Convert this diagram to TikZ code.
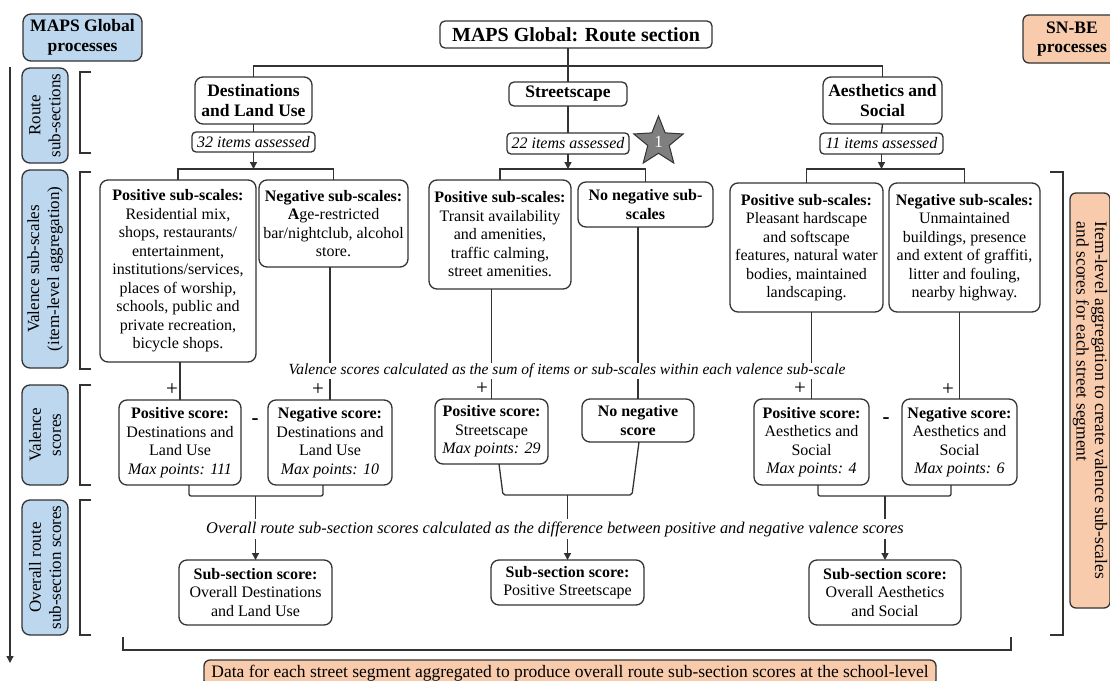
\documentclass[tikz,border=0pt]{standalone}
\usepackage{fontspec}
\setmainfont{Liberation Serif}
\usetikzlibrary{arrows.meta,shapes.geometric}
\definecolor{bluebox}{HTML}{BDD7EE}
\definecolor{orangebox}{HTML}{F8CBAD}
\definecolor{lin}{HTML}{333333}
\definecolor{stargray}{HTML}{7F7F7F}
\begin{document}
\begin{tikzpicture}[x=1pt,y=-1pt,
  every node/.style={inner sep=0pt,outer sep=0pt},
  wh/.style 2 args={minimum width=#1,minimum height=#2},
  ln/.style={draw=lin,line width=1.3pt},
  arr/.style={ln,-{Triangle[length=7pt,width=7pt]}},
  box/.style={draw=lin,line width=1.3pt,rounded corners=8pt,fill=white,align=center,
    font=\fontsize{16}{18.5}\selectfont},
  headbox/.style={box,font=\fontsize{17.5}{20.5}\selectfont\bfseries},
  itembox/.style={box,rounded corners=4pt,font=\fontsize{16}{18.5}\selectfont\itshape},
  bluebx/.style={draw=lin,line width=1.3pt,rounded corners=8pt,fill=bluebox,align=center,
    font=\fontsize{17.5}{19.5}\selectfont\bfseries},
  bluev/.style={draw=lin,line width=1.3pt,rounded corners=8pt,fill=bluebox,align=center,
    rotate=90,font=\fontsize{17}{20}\selectfont},
  orangebx/.style={draw=lin,line width=1.3pt,rounded corners=6pt,fill=orangebox,align=center},
  itxt/.style={fill=white,inner sep=2pt,font=\fontsize{15.5}{18.5}\selectfont\itshape},
  pm/.style={font=\fontsize{21}{22}\selectfont},
  mn/.style={font=\fontsize{21}{21}\selectfont\bfseries}
]
\fill[white] (0,0) rectangle (1110,680);
\useasboundingbox (0,0) rectangle (1110,680);

% side labels
\node[bluebx,wh={119}{47}] (gl) at (82.5,37.5) {MAPS Global\\processes};
\node[orangebx,wh={98}{48},font=\fontsize{17.5}{19.5}\selectfont\bfseries] (snbe) at (1072,39) {SN-BE\\processes};
\node[bluev,wh={95}{46}] (b1) at (45,115.5) {Route\\sub-sections};
\node[bluev,wh={198}{46}] (b2) at (45,269) {Valence sub-scales\\(item-level aggregation)};
\node[bluev,wh={100}{46}] (b3) at (45,435) {Valence\\scores};
\node[bluev,wh={135}{46}] (b4) at (45,567.5) {Overall route\\sub-section scores};
\node[orangebx,rotate=-90,wh={415}{40},align=left,font=\fontsize{17.5}{18.5}\selectfont] (rsn) at (1090,400.5)
  {Item-level aggregation to create valence sub-scales\\and scores for each street segment};
\node[orangebx,wh={732}{26},font=\fontsize{17.5}{18}\selectfont] (bsn) at (570,673)
  {Data for each street segment aggregated to produce overall route sub-section scores at the school-level};

% left arrow and brackets
\coordinate (la1) at (10,67);
\coordinate (la2) at (10,663);
\draw[arr] (la1) -- (la2);
\draw[ln] (91,72) -- (80,72) -- (80,153) -- (91,153);
\draw[ln] (91,172) -- (80,172) -- (80,369) -- (91,369);
\draw[ln] (91,385) -- (80,385) -- (80,485) -- (91,485);
\draw[ln] (91,500) -- (80,500) -- (80,635) -- (91,635);
\draw[ln] (1050,172) -- (1063,172) -- (1063,635) -- (1050,635);
\draw[ln] (123,637) -- (123,650) -- (1011,650) -- (1011,637);

% title and sections
\node[box,rounded corners=5pt,wh={272}{27},font=\fontsize{20}{22}\selectfont\bfseries] (title) at (576,34.5) {MAPS Global: Route section};
\node[headbox,wh={117}{47}] (dlu) at (253.5,100.5) {Destinations\\and Land Use};
\node[headbox,rounded corners=5pt,wh={118}{24}] (str) at (568,94) {Streetscape};
\node[headbox,wh={119}{47}] (aes) at (882.5,100.5) {Aesthetics and\\Social};
\node[itembox,wh={123}{20}] (i32) at (253.5,142) {32 items assessed};
\node[itembox,wh={122}{21}] (i22) at (568,143.5) {22 items assessed};
\node[itembox,wh={123}{21}] (i11) at (881.5,143.5) {11 items assessed};
\node[star,star points=5,star point ratio=2.3,minimum size=52,fill=stargray,draw=lin,line width=1pt,
  text=white,font=\fontsize{17}{18}\selectfont] (star) at (658.5,142) {1};

\coordinate (topbar) at (568,66);
\draw[ln] (dlu.north) |- (topbar) -| (aes.north);
\draw[ln] (title.south -| str.north) -- (str.north);
\draw[ln] (dlu.south) -- (i32.north);
\draw[ln] (str.south) -- (i22.north);
\draw[ln] (aes.south) -- (i11.north);

% valence sub-scales
\node[box,wh={156}{182}] (psD) at (178,271) {\textbf{Positive sub-scales:}\\Residential mix,\\shops, restaurants/\\entertainment,\\institutions/services,\\places of worship,\\schools, public and\\private recreation,\\bicycle shops.};
\node[box,wh={149}{87}] (nsD) at (333.5,223.5) {\textbf{Negative sub-scales:}\\\textbf{A}ge-restricted\\bar/nightclub, alcohol\\store.};
\node[box,wh={142}{109}] (psS) at (500,234.5) {\textbf{Positive sub-scales:}\\Transit availability\\and amenities,\\traffic calming,\\street amenities.};
\node[box,wh={135}{45}] (nsS) at (645.5,204.5) {\textbf{No negative sub-}\\\textbf{scales}};
\node[box,wh={153}{129}] (psA) at (806.5,247.5) {\textbf{Positive sub-scales:}\\Pleasant hardscape\\and softscape\\features, natural water\\bodies, maintained\\landscaping.};
\node[box,wh={151}{129}] (nsA) at (964.5,247.5) {\textbf{Negative sub-scales:}\\Unmaintained\\buildings, presence\\and extent of graffiti,\\litter and fouling,\\nearby highway.};

\coordinate (spD) at (253.5,169);
\coordinate (spS) at (568,169);
\coordinate (spA) at (881.5,169);
\draw[arr] (i32.south) -- (spD);
\draw[arr] (i22.south) -- (spS);
\draw[arr] (i11.south) -- (spA);
\draw[ln] (psD.north) |- (spD) -| (nsD.north);
\draw[ln] (psS.north) |- (spS) -| (nsS.north);
\draw[ln] (psA.north) |- (spA) -| (nsA.north);

% valence scores
\node[box,wh={122}{85}] (scDp) at (180,442.5) {\textbf{Positive score:}\\Destinations and\\Land Use\\\textit{Max points: 111}};
\node[box,wh={124}{85}] (scDm) at (330,442.5) {\textbf{Negative score:}\\Destinations and\\Land Use\\\textit{Max points: 10}};
\node[box,wh={113}{65}] (scSp) at (491.5,431.5) {\textbf{Positive score:}\\Streetscape\\\textit{Max points: 29}};
\node[box,wh={112}{43}] (scSm) at (638,420.5) {\textbf{No negative}\\\textbf{score}};
\node[box,wh={115}{86}] (scAp) at (811.5,442) {\textbf{Positive score:}\\Aesthetics and\\Social\\\textit{Max points: 4}};
\node[box,wh={115}{86}] (scAm) at (959.5,442) {\textbf{Negative score:}\\Aesthetics and\\Social\\\textit{Max points: 6}};

\draw[ln] (scDp.north |- psD.south) -- (scDp.north);
\draw[ln] (scDm.north |- nsD.south) -- (scDm.north);
\draw[ln] (scSp.north |- psS.south) -- (scSp.north);
\draw[ln] (scSm.north |- nsS.south) -- (scSm.north);
\draw[ln] (scAp.north |- psA.south) -- (scAp.north);
\draw[ln] (scAm.north |- nsA.south) -- (scAm.north);

\node[pm] (p1) at (172,390) {+};
\node[pm] (p2) at (318,390) {+};
\node[pm] (p3) at (482,389) {+};
\node[pm] (p4) at (800,389) {+};
\node[pm] (p5) at (948,390) {+};
\node[mn] (m1) at (255,422) {-};
\node[mn] (m2) at (886,421) {-};

% sub-section scores
\node[box,wh={153}{65}] (subD) at (255.5,592.5) {\textbf{Sub-section score:}\\Overall Destinations\\and Land Use};
\node[box,wh={153}{45}] (subS) at (567.5,582.5) {\textbf{Sub-section score:}\\Positive Streetscape};
\node[box,wh={152}{65}] (subA) at (885,592.5) {\textbf{Sub-section score:}\\Overall Aesthetics\\and Social};

\coordinate (jD) at (255.5,496);
\coordinate (jS) at (567.5,495);
\coordinate (jA) at (885,496);
\coordinate (jSl) at (503,495);
\coordinate (jSr) at (632,495);
\draw[ln,rounded corners=2pt] ([xshift=9]scDp.south) |- (jD) -| ([xshift=-7]scDm.south);
\draw[ln,rounded corners=2pt] ([xshift=7.5]scSp.south) -- (jSl) -- (jSr) -- ([xshift=1]scSm.south);
\draw[ln,rounded corners=2pt] ([xshift=6.5]scAp.south) |- (jA) -| ([xshift=-8.5]scAm.south);
\draw[arr] (jD) -- (subD.north);
\draw[arr] (jS) -- (subS.north);
\draw[arr] (jA) -- (subA.north);

% explanatory texts
\node[itxt,inner sep=1pt] (vtext) at (567,371) {Valence scores calculated as the sum of items or sub-scales within each valence sub-scale};
\node[itxt,font=\fontsize{16.4}{18.5}\selectfont\itshape] (otext) at (555,529) {Overall route sub-section scores calculated as the difference between positive and negative valence scores};
\end{tikzpicture}
\end{document}
